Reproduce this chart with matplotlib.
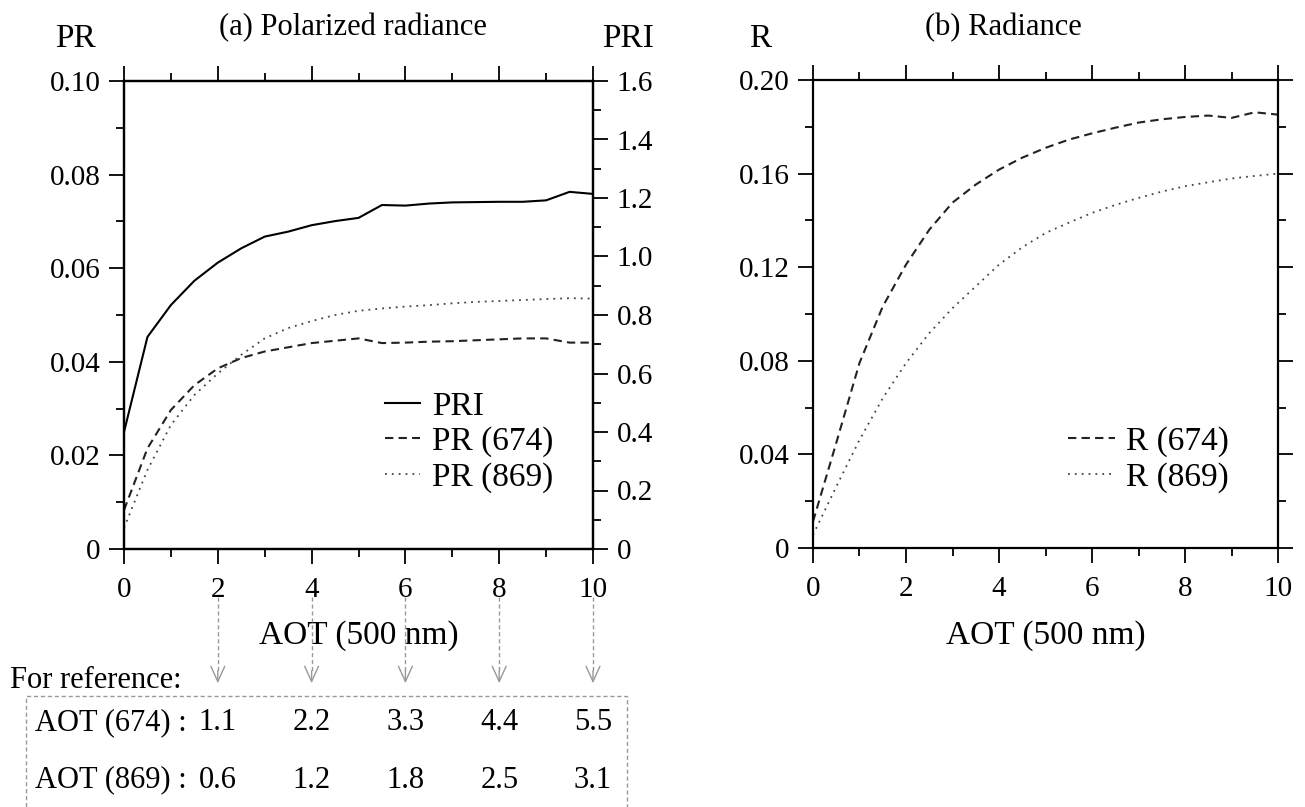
import numpy as np
import matplotlib
matplotlib.use('Agg')
from matplotlib import pyplot as plt
from matplotlib import transforms
from matplotlib.patches import Rectangle
from matplotlib.ticker import MultipleLocator, FuncFormatter

plt.rcParams['font.family'] = ['Liberation Serif', 'DejaVu Serif']

# AOT (500 nm) sample points
aot = [0, 0.5, 1, 1.5, 2, 2.5, 3, 3.5, 4, 4.5, 5, 5.5, 6, 6.5, 7, 7.5, 8, 8.5, 9, 9.5, 10]

# (a) polarized radiance
pri = [0.40, 0.725, 0.834, 0.917, 0.979, 1.028, 1.068, 1.085, 1.107, 1.121, 1.132,
       1.176, 1.174, 1.181, 1.185, 1.186, 1.187, 1.187, 1.192, 1.221, 1.214]
pr_674 = [0.0083, 0.0215, 0.0297, 0.0350, 0.0386, 0.0408, 0.0422, 0.0431, 0.0440, 0.0445, 0.0450,
          0.0440, 0.0441, 0.0443, 0.0444, 0.0446, 0.0448, 0.0450, 0.0450, 0.0441, 0.0441]
pr_869 = [0.0045, 0.0169, 0.0265, 0.0329, 0.0375, 0.0415, 0.0450, 0.0472, 0.0487, 0.0500, 0.0509,
          0.0514, 0.0518, 0.0521, 0.0525, 0.0528, 0.0530, 0.0532, 0.0534, 0.0536, 0.0535]

# (b) radiance
r_674 = [0.0113, 0.0449, 0.0791, 0.1032, 0.1211, 0.1360, 0.1476, 0.1553, 0.1617, 0.1668, 0.1710,
         0.1745, 0.1772, 0.1796, 0.1818, 0.1832, 0.1842, 0.1848, 0.1838, 0.1862, 0.1852]
r_869 = [0.0056, 0.0262, 0.0462, 0.0640, 0.0790, 0.0918, 0.1025, 0.1118, 0.1211, 0.1285, 0.1346,
         0.1390, 0.1432, 0.1466, 0.1496, 0.1523, 0.1546, 0.1563, 0.1579, 0.1590, 0.1600]

# reference table
ref_x = [2, 4, 6, 8, 10]
aot_674 = ['1.1', '2.2', '3.3', '4.4', '5.5']
aot_869 = ['0.6', '1.2', '1.8', '2.5', '3.1']

W, H = 1305, 807
fig = plt.figure(figsize=(W / 100, H / 100), dpi=100)


def fx(px):
    return px / W


def fy(py):
    return 1 - py / H


ax1 = fig.add_axes([fx(124), fy(549), fx(469), 468 / H])
ax1b = ax1.twinx()
ax2 = fig.add_axes([fx(813), fy(548), fx(465), 468 / H])

dash = (0, (4, 2.5))
dot = (0, (1, 2.8))

l_pri, = ax1b.plot(aot, pri, color='black', lw=1.5, label='PRI')
l_674, = ax1.plot(aot, pr_674, color='#222222', lw=1.5, ls=dash, label='PR (674)')
l_869, = ax1.plot(aot, pr_869, color='#444444', lw=1.3, ls=dot, label='PR (869)')

ax2.plot(aot, r_674, color='#222222', lw=1.5, ls=dash, label='R (674)')
ax2.plot(aot, r_869, color='#444444', lw=1.3, ls=dot, label='R (869)')


def fmt(dec):
    return FuncFormatter(lambda v, p: '0' if abs(v) < 1e-9 else f'{v:.{dec}f}')


tick_kw = dict(direction='out', labelsize=21, width=1.3)
for ax in (ax1, ax1b, ax2):
    for s in ax.spines.values():
        s.set_linewidth(1.6)
    ax.set_xlim(0, 10)
    ax.xaxis.set_major_locator(MultipleLocator(2))
    ax.xaxis.set_minor_locator(MultipleLocator(1))
    ax.tick_params(which='major', length=11, pad=6, **tick_kw)
    ax.tick_params(which='minor', length=6, **tick_kw)
    ax.tick_params(axis='x', which='major', pad=9)

ax1.set_ylim(0, 0.10)
ax1.yaxis.set_major_locator(MultipleLocator(0.02))
ax1.yaxis.set_minor_locator(MultipleLocator(0.01))
ax1.yaxis.set_major_formatter(fmt(2))
ax1.tick_params(which='both', top=True, right=False)
ax1.xaxis.set_major_formatter(FuncFormatter(lambda v, p: f'{v:g}'))

ax1b.set_ylim(0, 1.6)
ax1b.yaxis.set_major_locator(MultipleLocator(0.2))
ax1b.yaxis.set_minor_locator(MultipleLocator(0.1))
ax1b.yaxis.set_major_formatter(fmt(1))
ax1b.tick_params(which='both', top=False, bottom=False, labelbottom=False)

ax2.set_ylim(0, 0.20)
ax2.yaxis.set_major_locator(MultipleLocator(0.04))
ax2.yaxis.set_minor_locator(MultipleLocator(0.02))
ax2.yaxis.set_major_formatter(fmt(2))
ax2.xaxis.set_major_formatter(FuncFormatter(lambda v, p: f'{v:g}'))
ax2.tick_params(which='both', top=True, right=True)

for ax, ybot in ((ax1, 549), (ax2, 548)):
    ax.set_xlabel('AOT (500 nm)', fontsize=24)
    ax.xaxis.label.set_va('center')
    ax.xaxis.set_label_coords(0.5, -(636 - ybot) / 468)

# titles and axis names
fig.text(fx(353), fy(28), '(a) Polarized radiance', fontsize=22, ha='center', va='center')
fig.text(fx(1003), fy(28), '(b) Radiance', fontsize=22, ha='center', va='center')
fig.text(fx(75), fy(39), 'PR', fontsize=24, ha='center', va='center')
fig.text(fx(628), fy(39), 'PRI', fontsize=24, ha='center', va='center')
fig.text(fx(760), fy(39), 'R', fontsize=24, ha='center', va='center')

# legends
leg_kw = dict(frameon=False, fontsize=24, borderpad=0, borderaxespad=0,
              labelspacing=0.15, loc='upper left', bbox_transform=fig.transFigure)
ax1b.legend([l_pri, l_674, l_869], ['PRI', 'PR (674)', 'PR (869)'],
            handlelength=1.06, handletextpad=0.36,
            bbox_to_anchor=(fx(385), fy(391)), **leg_kw)
ax2.legend(handlelength=1.42, handletextpad=0.33,
           bbox_to_anchor=(fx(1068), fy(426)), **leg_kw)

# reference arrows below the left panel
btr = transforms.blended_transform_factory(ax1.transData, fig.transFigure)
for xv in ref_x:
    ax1.plot([xv, xv], [fy(597), fy(672)], transform=btr, clip_on=False,
             color='#999999', lw=1, ls=(0, (3, 2)))
    ax1.annotate('', xy=(xv, fy(686)), xytext=(xv, fy(668)), xycoords=btr, textcoords=btr,
                 arrowprops=dict(arrowstyle='->, head_length=0.55, head_width=0.25',
                                 color='#999999', lw=1, mutation_scale=20))

fig.text(fx(10), fy(681), 'For reference:', fontsize=22, ha='left', va='center')
fig.patches.append(Rectangle((fx(26), fy(815)), fx(601), (815 - 696) / H,
                             transform=fig.transFigure, fill=False,
                             edgecolor='#999999', lw=1, ls=(0, (3, 2))))

for label, vals, py in (('AOT (674) :', aot_674, 723), ('AOT (869) :', aot_869, 780)):
    fig.text(fx(35), fy(py), label, fontsize=22, ha='left', va='center')
    for xv, s in zip(ref_x, vals):
        ax1.text(xv, fy(py), s, transform=btr, fontsize=22, ha='center', va='center')

fig.savefig('out.png', dpi=100)
